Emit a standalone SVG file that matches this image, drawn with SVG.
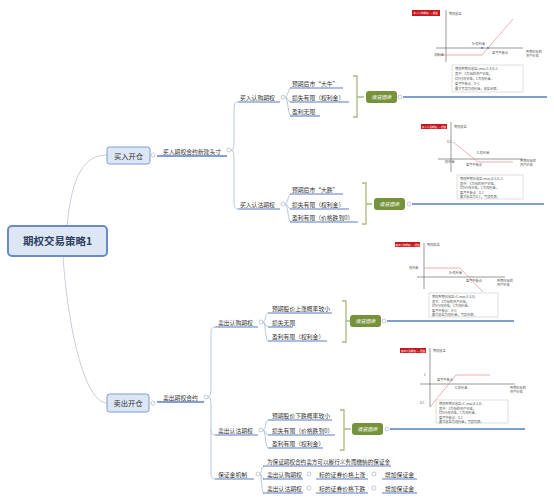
<svg xmlns="http://www.w3.org/2000/svg" width="554" height="500" viewBox="0 0 554 500">
<style>
text{font-family:"Noto Sans CJK SC","Noto Sans",sans-serif;fill:#333}
.l{font-size:5.8px}
.ul{stroke:#5b7ec2;stroke-width:1.1;fill:none}
.ul2{stroke:#5b7ec2;stroke-width:1.4;fill:none}
.sp{stroke:#b9c7de;stroke-width:1;fill:none}
.cv{stroke:#c8cfda;stroke-width:1;fill:none}
.cir{fill:#fff;stroke:#aab6c8;stroke-width:0.7}
.br{stroke:#a9b97e;stroke-width:1.3;fill:none}
.btn{fill:#76923b}
.bt{font-size:5px;fill:#fff;font-style:italic}
.long{stroke:#7e9ed2;stroke-width:2}
.ax{stroke:#555;stroke-width:0.6}
.rl{stroke:#e07a7a;stroke-width:0.6;fill:none}
.tb{fill:#fff;stroke:#c9c9c9;stroke-width:0.6}
.t{font-size:3.2px;fill:#555}
.rt{font-size:2.5px;fill:#fff}
.rb{fill:#c8161d}
</style>

<g id="connectors">
<path class="cv" d="M67,226 C72,172 86,155 107,155"/>
<path class="cv" d="M63,256 C68,330 85,403 107,403"/>
<path class="ul2" d="M157,156 L227,156"/>
<path class="sp" d="M231,150 C234,150 234,146 234,135 L234,110 C234,104 235,102 238,102"/>
<path class="sp" d="M231,150 C234,150 234,155 234,166 L234,202 C234,207 235,209 238,209"/>
<path class="ul" d="M238,102 L280,102"/>
<path class="ul" d="M238,209 L280,209"/>
<path class="sp" d="M285,97 C288,97 288,88 291,88"/>
<path class="sp" d="M285,97 C288,97 288,102 291,102"/>
<path class="sp" d="M285,97 C288,97 288,116 291,116"/>
<path class="ul" d="M290,88 L343,88"/>
<path class="ul" d="M290,102 L349,102"/>
<path class="ul" d="M290,116 L320,116"/>
<path class="sp" d="M285,204 C288,204 288,194 291,194"/>
<path class="sp" d="M285,204 C288,204 288,209 291,209"/>
<path class="sp" d="M285,204 C288,204 288,222 291,222"/>
<path class="ul" d="M290,194 L343,194"/>
<path class="ul" d="M290,209 L349,209"/>
<path class="ul" d="M290,222 L358,222"/>
<path class="br" d="M353,76 L357,76 L357,117 L353,117 M357,97 L364,97"/>
<path class="br" d="M362,183 L366,183 L366,224 L362,224 M366,204 L372,204"/>
<line class="long" x1="403" y1="97" x2="547" y2="97"/>
<line class="long" x1="412" y1="204" x2="544" y2="204"/>

<path class="ul2" d="M157,402 L204,402"/>
<path class="sp" d="M208,397 C211,397 211,392 211,380 L211,333 C211,329 212,327 215,327"/>
<path class="sp" d="M208,397 C211,397 211,402 211,412 L211,429 C211,433 212,435 215,435"/>
<path class="sp" d="M211,430 L211,473 C211,477 212,479 215,479"/>
<path class="ul" d="M215,327 L258,327"/>
<path class="ul" d="M215,435 L258,435"/>
<path class="ul" d="M215,479 L254,479"/>
<path class="sp" d="M263,322 C266,322 265,313 268,313"/>
<path class="sp" d="M263,322 C266,322 265,327 268,327"/>
<path class="sp" d="M263,322 C266,322 265,341 268,341"/>
<path class="ul" d="M268,313 L332,313"/>
<path class="ul" d="M268,327 L293,327"/>
<path class="ul" d="M268,341 L327,341"/>
<path class="sp" d="M263,430 C266,430 265,420 268,420"/>
<path class="sp" d="M263,430 C266,430 265,435 268,435"/>
<path class="sp" d="M263,430 C266,430 265,448 268,448"/>
<path class="ul" d="M268,420 L332,420"/>
<path class="ul" d="M268,435 L335,435"/>
<path class="ul" d="M268,448 L323,448"/>
<path class="br" d="M342,301 L346,301 L346,342 L342,342 M346,321 L350,321"/>
<path class="br" d="M340,410 L344,410 L344,450 L340,450 M344,429 L351,429"/>
<line class="long" x1="387" y1="321" x2="514" y2="321"/>
<line class="long" x1="390" y1="429" x2="525" y2="429"/>
<path class="sp" d="M260,474 C262,474 261,466 264,466"/>
<path class="sp" d="M260,474 C262,474 261,479 264,479"/>
<path class="sp" d="M260,474 C262,474 261,493 264,493"/>
<path class="ul" d="M263,466 L391,466"/>
<path class="ul" d="M263,479 L303,479"/>
<path class="ul" d="M316,479 L368,479"/>
<path class="ul" d="M382,479 L417,479"/>
<path class="ul" d="M263,493 L303,493"/>
<path class="ul" d="M316,493 L368,493"/>
<path class="ul" d="M382,493 L417,493"/>
</g>

<g id="root">
<rect x="8" y="226" width="99" height="30" rx="4" fill="#dce6f5" stroke="#6a8cc6" stroke-width="2"/>
<text x="57.5" y="245" text-anchor="middle" font-size="10.5" font-weight="bold" style="fill:#2e3f60">期权交易策略1</text>
</g>

<g id="buy-open">
<rect x="107" y="147" width="43" height="17" rx="2.5" fill="#dce6f5" stroke="#7d9bd0" stroke-width="1"/>
<text x="128.5" y="158.5" text-anchor="middle" font-size="7.3">买入开仓</text>
<circle class="cir" cx="153" cy="155" r="2"/>
</g>
<g id="buy-contract"><text class="l" x="163" y="153.5">买入期权合约新建头寸</text><circle class="cir" cx="229" cy="150" r="2"/></g>
<g id="buy-call"><text class="l" x="240" y="99.5">买入认购期权</text><circle class="cir" cx="283" cy="97" r="2"/></g>
<g id="bc1"><text class="l" x="292" y="85.5">预期后市“大牛”</text></g>
<g id="bc2"><text class="l" x="292" y="99.5">损失有限（权利金）</text></g>
<g id="bc3"><text class="l" x="292" y="113.5">盈利无限</text></g>
<g id="bc-btn"><rect class="btn" x="366" y="91" width="31" height="12" rx="3"/><text class="bt" x="381.5" y="98.8" text-anchor="middle">收益图表</text><circle class="cir" cx="400" cy="97" r="2"/></g>
<g id="buy-put"><text class="l" x="240" y="206.5">买入认沽期权</text><circle class="cir" cx="283" cy="204" r="2"/></g>
<g id="bp1"><text class="l" x="292" y="191.5">预期后市“大跌”</text></g>
<g id="bp2"><text class="l" x="292" y="206.5">损失有限（权利金）</text></g>
<g id="bp3"><text class="l" x="292" y="219.5">盈利有限（价格跌到0）</text></g>
<g id="bp-btn"><rect class="btn" x="374" y="198" width="31" height="12" rx="3"/><text class="bt" x="389.5" y="205.8" text-anchor="middle">收益图表</text><circle class="cir" cx="409" cy="204" r="2"/></g>

<g id="sell-open">
<rect x="107" y="394" width="42" height="18" rx="2.5" fill="#dce6f5" stroke="#7d9bd0" stroke-width="1"/>
<text x="128" y="405.5" text-anchor="middle" font-size="7.3">卖出开仓</text>
<circle class="cir" cx="153" cy="403" r="2"/>
</g>
<g id="sell-contract"><text class="l" x="163" y="399.5">卖出期权合约</text><circle class="cir" cx="206" cy="397" r="2"/></g>
<g id="sell-call"><text class="l" x="218" y="324.5">卖出认购期权</text><circle class="cir" cx="261" cy="322" r="2"/></g>
<g id="sc1"><text class="l" x="272" y="310.5">预期股价上涨概率较小</text></g>
<g id="sc2"><text class="l" x="272" y="324.5">损失无限</text></g>
<g id="sc3"><text class="l" x="272" y="338.5">盈利有限（权利金）</text></g>
<g id="sc-btn"><rect class="btn" x="350" y="315" width="31" height="12" rx="3"/><text class="bt" x="365.5" y="322.8" text-anchor="middle">收益图表</text><circle class="cir" cx="384" cy="321" r="2"/></g>
<g id="sell-put"><text class="l" x="218" y="432.5">卖出认沽期权</text><circle class="cir" cx="261" cy="430" r="2"/></g>
<g id="sp1"><text class="l" x="272" y="417.5">预期股价下跌概率较小</text></g>
<g id="sp2"><text class="l" x="272" y="432.5">损失有限（价格跌到0）</text></g>
<g id="sp3"><text class="l" x="272" y="445.5">盈利有限（权利金）</text></g>
<g id="sp-btn"><rect class="btn" x="352" y="423" width="31" height="12" rx="3"/><text class="bt" x="367.5" y="430.8" text-anchor="middle">收益图表</text><circle class="cir" cx="387" cy="429" r="2"/></g>
<g id="margin"><text class="l" x="218" y="476.5">保证金机制</text><circle class="cir" cx="258" cy="474" r="2"/></g>
<g id="m0"><text x="267" y="463.5" font-size="5.6">为保证期权合约卖方可以履行义务而缴纳的保证金</text></g>
<g id="m1a"><text class="l" x="267" y="476.5">卖出认购期权</text><circle class="cir" cx="309" cy="474" r="2"/></g>
<g id="m1b"><text class="l" x="319" y="476.5">标的证券价格上涨</text><circle class="cir" cx="374" cy="474" r="2"/></g>
<g id="m1c"><text class="l" x="385" y="476.5">增加保证金</text></g>
<g id="m2a"><text class="l" x="267" y="490.5">卖出认沽期权</text><circle class="cir" cx="309" cy="488" r="2"/></g>
<g id="m2b"><text class="l" x="319" y="490.5">标的证券价格下跌</text><circle class="cir" cx="374" cy="488" r="2"/></g>
<g id="m2c"><text class="l" x="385" y="490.5">增加保证金</text></g>

<g id="chart-buy-call">
<rect class="rb" x="412" y="10" width="28" height="6"/>
<text class="rt" x="413.5" y="13.9">买入认购期权——损益</text>
<text class="t" x="449" y="14.5">期权收益</text>
<line class="ax" x1="446" y1="10" x2="446" y2="62"/>
<line class="ax" x1="436" y1="48" x2="523" y2="48"/>
<path class="rl" d="M437,55 L482,55 L513,19"/>
<circle cx="482" cy="48" r="0.9" fill="#4a6fb5"/><circle cx="488" cy="48" r="0.9" fill="#4a6fb5"/>
<text class="t" x="444" y="56.2" text-anchor="end">-权利金</text>
<text class="t" x="472" y="45">X+权利金</text>
<text class="t" x="492" y="53.5">盈亏平衡点</text>
<text class="t" x="526" y="53">到期日标的</text><text class="t" x="526" y="57">资产价格</text>
<rect class="tb" x="452" y="65" width="71" height="27"/>
<text class="t" x="455" y="70">期权到期日收益=max(S-X,0)-C</text>
<text class="t" x="455" y="75">其中：S为标的资产价格，</text>
<text class="t" x="455" y="80">X为行权价格，C为权利金。</text>
<text class="t" x="455" y="85">盈亏平衡点：X+C</text>
<text class="t" x="455" y="90">最大亏损为权利金，收益无限。</text>
</g>

<g id="chart-buy-put">
<rect class="rb" x="421" y="124" width="26" height="5"/>
<text class="rt" x="422" y="127.5">买入认沽期权——损益</text>
<text class="t" x="454" y="127.5">期权收益</text>
<line class="ax" x1="451" y1="122" x2="451" y2="172"/>
<line class="ax" x1="438" y1="159" x2="523" y2="159"/>
<path class="rl" d="M453,142 L478,162 L513,162"/>
<text class="t" x="444" y="163.2">-权利金</text>
<text class="t" x="447" y="142.5">X-C</text>
<text class="t" x="477" y="154">X-权利金</text>
<text class="t" x="466" y="166">盈亏平衡点</text>
<text class="t" x="520" y="162">到期日标的</text><text class="t" x="520" y="166">资产价格</text>
<rect class="tb" x="457" y="175" width="66" height="24"/>
<text class="t" x="460" y="180">期权到期日收益=max(X-S,0)-C</text>
<text class="t" x="460" y="184.5">其中：S为标的资产价格，</text>
<text class="t" x="460" y="189">X为行权价格，C为权利金。</text>
<text class="t" x="460" y="193.5">盈亏平衡点：X-C</text>
<text class="t" x="460" y="198">最大收益为X-C，亏损有限。</text>
</g>

<g id="chart-sell-call">
<rect class="rb" x="395" y="242" width="25" height="5"/>
<text class="rt" x="395.5" y="245.5">卖出认购期权——损益</text>
<text class="t" x="427" y="246">期权收益</text>
<line class="ax" x1="424" y1="243" x2="424" y2="289"/>
<line class="ax" x1="417" y1="277" x2="505" y2="277"/>
<path class="rl" d="M424,268 L460,268 L483,292"/>
<text class="t" x="409" y="269">权利金</text>
<text class="t" x="449" y="274">X+权利金</text>
<text class="t" x="466" y="282">盈亏平衡点</text>
<text class="t" x="497" y="282">到期日标的</text><text class="t" x="497" y="286">资产价格</text>
<rect class="tb" x="429" y="293" width="69" height="24"/>
<text class="t" x="432" y="298">期权到期日收益=C-max(S-X,0)</text>
<text class="t" x="432" y="302.5">其中：S为标的资产价格，</text>
<text class="t" x="432" y="307">X为行权价格，C为权利金。</text>
<text class="t" x="432" y="311.5">盈亏平衡点：X+C</text>
<text class="t" x="432" y="316">最大收益为权利金，亏损无限。</text>
</g>

<g id="chart-sell-put">
<rect class="rb" x="400" y="348" width="26" height="5"/>
<text class="rt" x="401" y="351.5">卖出认沽期权——损益</text>
<text class="t" x="433" y="352">期权收益</text>
<line class="ax" x1="430" y1="348" x2="430" y2="407"/>
<line class="ax" x1="420" y1="384" x2="515" y2="384"/>
<path class="rl" d="M430,407 L456,375 L490,375"/>
<text class="t" x="424" y="376">C</text>
<text class="t" x="437" y="381">盈亏平衡点</text>
<text class="t" x="455" y="389">X-权利金</text>
<text class="t" x="420" y="404">X-C</text>
<text class="t" x="510" y="389">到期日标的</text><text class="t" x="510" y="393">资产价格</text>
<rect class="tb" x="436" y="400" width="72" height="23"/>
<text class="t" x="439" y="405">期权到期日收益=C-max(X-S,0)</text>
<text class="t" x="439" y="409.5">其中：S为标的资产价格，</text>
<text class="t" x="439" y="414">X为行权价格，C为权利金。</text>
<text class="t" x="439" y="418.5">盈亏平衡点：X-C</text>
<text class="t" x="439" y="422.5">最大收益为权利金，亏损有限。</text>
</g>
</svg>
